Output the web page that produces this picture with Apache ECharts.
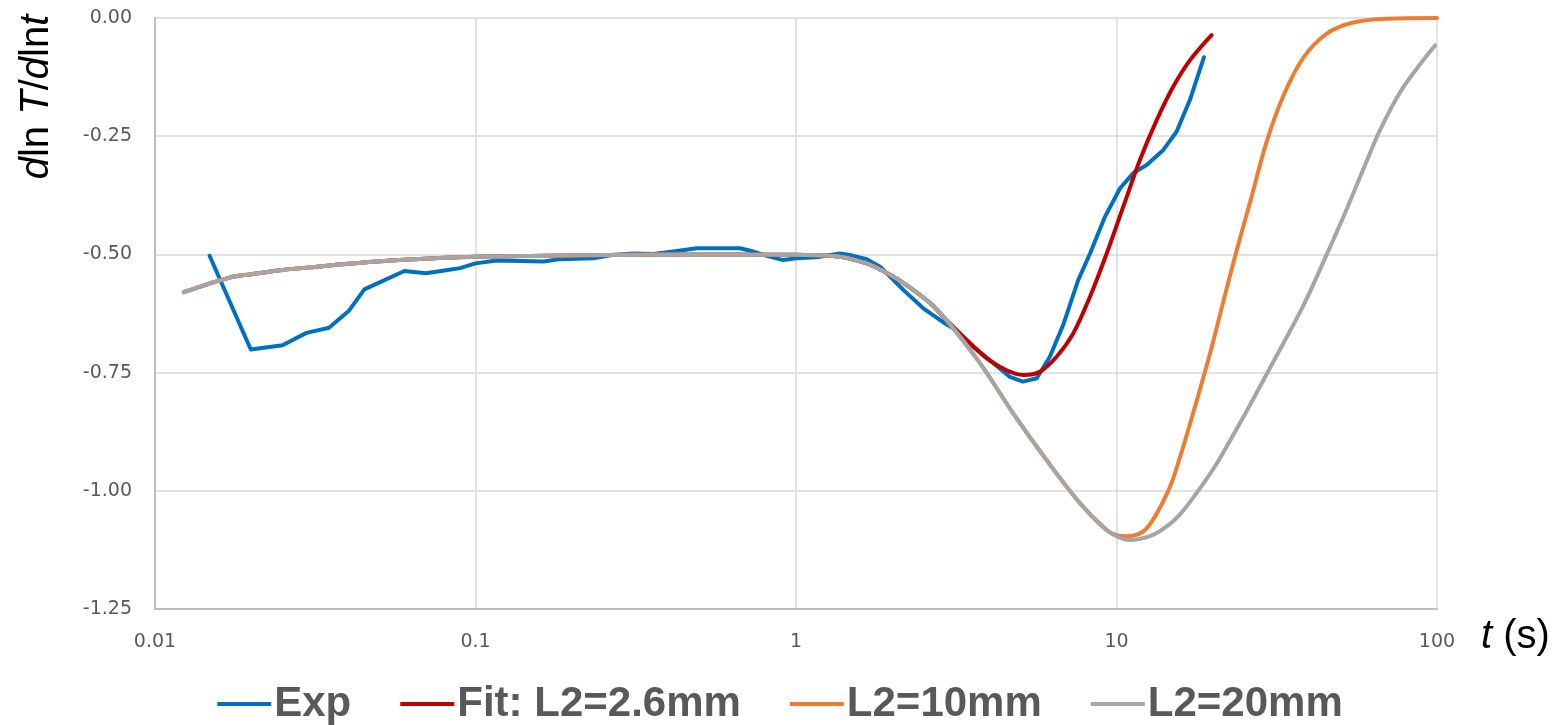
<!DOCTYPE html>
<html>
<head>
<meta charset="utf-8">
<title>dlnT/dlnt vs t</title>
<script src="https://cdn.jsdelivr.net/npm/echarts@6/dist/echarts.min.js"></script>
<style>
  html, body { margin: 0; padding: 0; background: #fff; }
  #chart { width: 1560px; height: 725px; }
</style>
</head>
<body>
<div id="chart"></div>
<script>
// Measured log-derivative (Exp)
const expT = [0.0148, 0.0199, 0.025, 0.0297, 0.0349, 0.0403, 0.045, 0.06, 0.07, 0.08, 0.0895, 0.1,
  0.1165, 0.163, 0.1835, 0.233, 0.269, 0.311, 0.359, 0.414, 0.49, 0.669, 0.737, 0.81, 0.913, 1.0,
  1.16, 1.37, 1.47, 1.662, 1.83, 2.162, 2.495, 2.9, 3.10, 3.57, 4.13, 4.65, 5.1, 5.64, 6.20, 6.82,
  7.60, 8.27, 9.21, 10.26, 11.28, 12.42, 14.0, 15.41, 16.95, 18.75];
const expV = [-0.503, -0.701, -0.692, -0.666, -0.655, -0.619, -0.574, -0.535, -0.540, -0.534, -0.529, -0.519,
  -0.513, -0.515, -0.510, -0.508, -0.501, -0.498, -0.499, -0.494, -0.487, -0.487, -0.494, -0.503, -0.512, -0.508,
  -0.506, -0.498, -0.501, -0.510, -0.526, -0.575, -0.614, -0.645, -0.656, -0.695, -0.730, -0.759, -0.769, -0.762,
  -0.716, -0.649, -0.554, -0.498, -0.420, -0.360, -0.328, -0.311, -0.279, -0.240, -0.173, -0.083];

// Model curves: early-time branch common to all three
const modelEarlyT = [0.0123, 0.0171, 0.02, 0.025, 0.032, 0.04, 0.058, 0.1, 0.166, 0.3, 0.6, 1.0,
  1.37, 1.66, 1.83, 2.06, 2.32, 2.62, 2.95];
const modelEarlyV = [-0.580, -0.549, -0.542, -0.533, -0.526, -0.520, -0.512, -0.505, -0.503, -0.501, -0.500, -0.501,
  -0.505, -0.519, -0.532, -0.551, -0.575, -0.603, -0.639];

// Fit: L2 = 2.6 mm
const fitT = [3.41, 3.94, 4.54, 5.12, 5.77, 6.51, 7.33, 8.27, 9.32, 10.5, 11.84, 13.35, 15.04, 16.96, 19.8];
const fitV = [-0.681, -0.720, -0.745, -0.755, -0.748, -0.716, -0.667, -0.589, -0.498, -0.399, -0.300, -0.216,
  -0.145, -0.089, -0.036];

// L2 = 10 mm
const l10T = [3.75, 4.76, 6.05, 7.69, 9.32, 10.0, 10.8, 12.4, 14.5, 15.78, 17.37, 19.57, 21.54, 23.7, 26.1,
  29.4, 33.2, 38.3, 45.3, 54.8, 69.7, 100];
const l10V = [-0.730, -0.836, -0.935, -1.026, -1.083, -1.094, -1.096, -1.080, -1.000, -0.929, -0.834, -0.710,
  -0.600, -0.492, -0.390, -0.262, -0.164, -0.084, -0.033, -0.0095, -0.0015, 0];

// L2 = 20 mm
const l20T = [3.75, 4.76, 6.05, 7.69, 9.32, 11.0, 13.0, 14.69, 15.78, 17.33, 20.0, 22.12, 25.54, 29.48, 38.3,
  45.3, 52.3, 60.4, 66.4, 76.7, 88.5, 98.6];
const l20V = [-0.730, -0.836, -0.935, -1.026, -1.083, -1.104, -1.093, -1.070, -1.050, -1.015, -0.955, -0.905,
  -0.830, -0.752, -0.608, -0.500, -0.404, -0.302, -0.237, -0.157, -0.098, -0.058];

const seriesNames = ['Exp', 'Fit: L2=2.6mm', 'L2=10mm', 'L2=20mm'];
const seriesColors = ['#0070C0', '#C00000', '#ED7D31', '#A5A5A5'];
const xTicks = [0.01, 0.1, 1, 10, 100];

const pairs = (ts, vs) => ts.map((t, i) => [t, vs[i]]);
const expData = pairs(expT, expV);
const fitData = pairs(modelEarlyT.concat(fitT), modelEarlyV.concat(fitV));
const l10Data = pairs(modelEarlyT.concat(l10T), modelEarlyV.concat(l10V));
const l20Data = pairs(modelEarlyT.concat(l20T), modelEarlyV.concat(l20V));

const chart = echarts.init(document.getElementById('chart'), null, { renderer: 'canvas' });

const lineSeries = (i, data, smooth) => ({
  name: seriesNames[i],
  type: 'line',
  data: data,
  showSymbol: false,
  symbol: 'none',
  smooth: smooth,
  lineStyle: { color: seriesColors[i], width: 4, cap: 'round', join: 'round' },
  itemStyle: { color: seriesColors[i] },
  emphasis: { disabled: true }
});

const tickFont = 'DejaVu Sans';
const titleFont = 'Liberation Sans';

chart.setOption({
  animation: false,
  backgroundColor: '#ffffff',
  grid: { left: 155, right: 123, top: 18, bottom: 116, containLabel: false },
  xAxis: {
    type: 'log',
    logBase: 10,
    min: xTicks[0],
    max: xTicks[xTicks.length - 1],
    axisLine: { show: true, onZero: false, lineStyle: { color: '#BFBFBF', width: 2 } },
    axisTick: { show: false },
    splitLine: { show: true, lineStyle: { color: '#D9D9D9', width: 1.5 } },
    axisLabel: {
      margin: 24,
      color: '#595959',
      fontFamily: tickFont,
      fontSize: 19,
      formatter: v => (v >= 1 ? String(Math.round(v)) : String(+v.toPrecision(1)))
    }
  },
  yAxis: {
    type: 'value',
    min: -1.25,
    max: 0,
    interval: 0.25,
    axisLine: { show: true, lineStyle: { color: '#BFBFBF', width: 2 } },
    axisTick: { show: false },
    splitLine: { show: true, lineStyle: { color: '#D9D9D9', width: 1.5 } },
    axisLabel: {
      margin: 23,
      color: '#595959',
      fontFamily: tickFont,
      fontSize: 19,
      formatter: v => v.toFixed(2)
    }
  },
  legend: {
    data: seriesNames,
    left: 'center',
    top: 678,
    icon: 'rect',
    itemWidth: 54,
    itemHeight: 4,
    itemGap: 49,
    textStyle: {
      color: '#595959',
      fontFamily: titleFont,
      fontWeight: 'bold',
      fontSize: 42,
      padding: [0, 0, 0, -2]
    }
  },
  graphic: [
    {
      type: 'text',
      x: 37,
      y: 97,
      rotation: Math.PI / 2,
      style: {
        text: '{i|d}{r|ln }{i|T}{r|/}{i|d}{r|ln}{i|t}',
        align: 'center',
        verticalAlign: 'middle',
        rich: {
          i: { fontStyle: 'italic', fontSize: 40, fontFamily: titleFont, fill: '#000000' },
          r: { fontSize: 40, fontFamily: titleFont, fill: '#000000' }
        }
      }
    },
    {
      type: 'text',
      x: 1481,
      y: 637,
      style: {
        text: '{i|t}{r| (s)}',
        align: 'left',
        verticalAlign: 'middle',
        rich: {
          i: { fontStyle: 'italic', fontSize: 40, fontFamily: titleFont, fill: '#000000' },
          r: { fontSize: 40, fontFamily: titleFont, fill: '#000000' }
        }
      }
    }
  ],
  series: [
    lineSeries(0, expData, false),
    lineSeries(1, fitData, 0.35),
    lineSeries(2, l10Data, 0.35),
    lineSeries(3, l20Data, 0.35)
  ]
});
</script>
</body>
</html>
